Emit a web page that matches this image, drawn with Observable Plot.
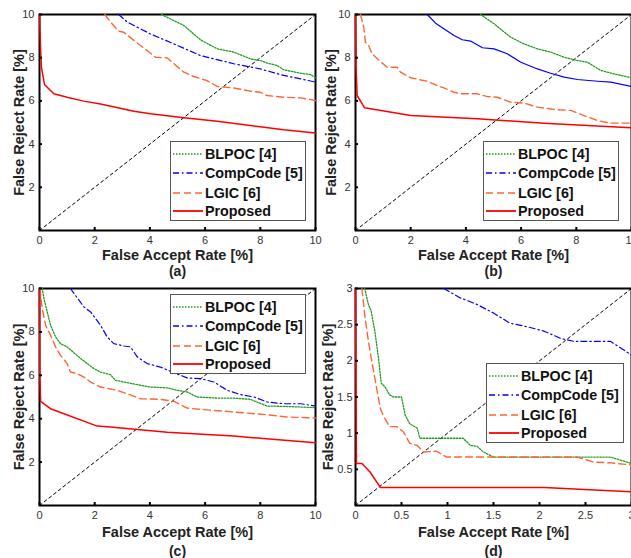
<!DOCTYPE html>
<html><head><meta charset="utf-8">
<script src="https://cdn.jsdelivr.net/npm/d3@7"></script>
<script src="https://cdn.jsdelivr.net/npm/@observablehq/plot@0.6"></script>
<style>
html,body{margin:0;padding:0;background:#fff;overflow:hidden;width:631px;height:558px;}
#root{position:relative;width:631px;height:558px;font-family:"Liberation Sans",Arial,sans-serif;}
.pan{position:absolute;}
.leg{position:absolute;box-sizing:border-box;border:1.5px solid #555;background:#fff;}
.row{position:absolute;left:0;height:19px;display:flex;align-items:center;}
.row svg{margin-left:2px;}
.row span{margin-left:2px;font-weight:bold;font-size:14.3px;color:#111;white-space:nowrap;}
</style></head><body><div id="root"></div>
<script>
const seriesNames = ["BLPOC [4]","CompCode [5]","LGIC [6]","Proposed"];
const xLabel = "False Accept Rate [%]";
const yLabel = "False Reject Rate [%]";
const xticks10 = [0,2,4,6,8,10];
const yticks10 = [2,4,6,8,10];
const xticks3 = [0,0.5,1,1.5,2,2.5,3];
const yticks3 = [0.5,1,1.5,2,2.5,3];
const diag10 = [[0,0],[10,10]];
const diag3 = [[0,0],[3,3]];

// Panel (a)
const a_blpoc = [[4.42,10],[5.23,9.49],[5.83,8.83],[6.44,8.41],[7.04,8.26],[7.64,7.95],[8.0,7.87],[8.25,7.75],[8.61,7.64],[8.85,7.44],[9.46,7.28],[9.82,7.22],[10,7.07]];
const a_comp = [[2.87,10],[3.18,9.65],[4.02,9.1],[4.87,8.64],[5.83,8.1],[7.04,7.72],[8.0,7.48],[8.85,7.18],[9.46,7.02],[10,6.87]];
const a_lgic = [[2.37,10],[2.57,9.65],[2.87,9.23],[3.05,9.18],[3.42,8.8],[3.9,8.33],[4.2,8.02],[4.63,7.99],[4.87,7.72],[5.23,7.33],[5.59,7.13],[6.07,6.94],[6.44,6.67],[7.04,6.6],[7.64,6.45],[8.0,6.4],[8.25,6.25],[8.85,6.17],[9.46,6.14],[10,6.02]];
const a_prop = [[0,10],[0.04,8.33],[0.07,7.56],[0.18,6.76],[0.52,6.33],[1.0,6.17],[1.6,5.99],[2.21,5.86],[3.42,5.52],[4.02,5.4],[5.23,5.22],[6.44,5.06],[7.64,4.86],[8.85,4.66],[10,4.51]];
// Panel (b)
const b_blpoc = [[4.53,10],[5.02,9.57],[5.62,8.95],[6.1,8.64],[6.59,8.41],[7.07,8.26],[7.56,8.02],[8.04,7.87],[8.4,7.79],[8.89,7.41],[9.37,7.25],[10,7.07]];
const b_comp = [[2.6,10],[2.9,9.6],[3.2,9.34],[3.57,9.03],[3.87,8.83],[4.17,8.77],[4.6,8.46],[5.02,8.41],[5.5,8.18],[5.99,7.79],[6.59,7.48],[7.07,7.28],[7.56,7.1],[8.04,6.99],[8.77,6.91],[9.25,6.87],[10,6.67]];
const b_lgic = [[0.18,10],[0.3,9.41],[0.36,8.72],[0.48,8.56],[0.6,8.18],[0.79,7.95],[1.15,7.56],[1.51,7.56],[1.63,7.33],[2.0,7.07],[2.6,6.91],[2.96,6.71],[3.2,6.6],[3.57,6.4],[3.81,6.33],[4.41,6.33],[4.78,6.2],[5.14,6.17],[5.62,5.94],[6.1,5.9],[6.59,5.71],[7.32,5.59],[7.8,5.56],[8.28,5.32],[8.77,5.09],[9.25,4.97],[10,4.97]];
const b_prop = [[0,10],[0.02,7.56],[0.06,6.25],[0.33,5.68],[2.0,5.32],[4.41,5.17],[6.83,4.97],[10,4.75]];
// Panel (c)
const c_blpoc = [[0.1,10],[0.16,9.54],[0.28,8.92],[0.4,8.31],[0.58,7.77],[0.76,7.46],[1.0,7.31],[1.24,7.05],[1.49,6.77],[1.73,6.54],[1.97,6.31],[2.21,6.15],[2.57,6.03],[2.75,5.77],[3.18,5.66],[3.66,5.54],[4.02,5.46],[4.63,5.42],[4.99,5.31],[5.35,5.23],[5.71,5.0],[6.44,4.95],[7.04,4.95],[7.64,4.89],[8.25,4.58],[8.85,4.57],[10,4.51]];
const c_comp = [[1.12,10],[1.43,9.46],[1.61,9.15],[1.85,8.92],[2.21,8.31],[2.45,7.77],[2.69,7.46],[3.06,7.35],[3.3,7.31],[3.54,6.85],[3.9,6.54],[4.38,6.38],[4.87,6.12],[5.35,5.88],[5.83,5.85],[6.32,5.69],[6.8,5.31],[7.28,5.11],[7.77,5.0],[8.25,4.77],[8.85,4.69],[9.46,4.69],[10,4.58]];
const c_lgic = [[0.02,10],[0.04,9.7],[0.1,9.08],[0.22,8.31],[0.4,7.85],[0.58,7.31],[0.76,6.92],[1.0,6.54],[1.12,6.15],[1.36,6.08],[1.61,5.92],[1.85,5.69],[2.21,5.46],[2.81,5.31],[3.18,5.15],[3.66,4.92],[4.38,4.89],[4.87,4.8],[5.35,4.49],[5.83,4.43],[7.04,4.31],[8.25,4.18],[8.97,4.08],[10,4.03]];
const c_prop = [[0,10],[0.01,6.0],[0.04,4.8],[0.4,4.46],[2.09,3.66],[2.57,3.62],[4.63,3.38],[7.04,3.2],[10,2.89]];
// Panel (d)
const d_blpoc = [[0.1,3.0],[0.14,2.78],[0.17,2.69],[0.21,2.41],[0.25,2.04],[0.28,1.69],[0.32,1.64],[0.37,1.53],[0.41,1.5],[0.5,1.5],[0.54,1.25],[0.59,1.13],[0.67,1.07],[0.7,0.93],[1.17,0.93],[1.25,0.83],[1.32,0.82],[1.39,0.74],[1.5,0.67],[2.77,0.67],[3.0,0.58]];
const d_comp = [[0.96,3.0],[1.14,2.87],[1.32,2.78],[1.5,2.66],[1.68,2.52],[1.87,2.47],[2.05,2.41],[2.23,2.31],[2.37,2.27],[2.77,2.27],[3.0,2.08]];
const d_lgic = [[0.07,3.0],[0.1,2.64],[0.14,2.27],[0.19,1.9],[0.23,1.62],[0.27,1.34],[0.3,1.25],[0.37,1.09],[0.45,1.09],[0.52,1.02],[0.59,0.86],[0.67,0.83],[0.74,0.74],[0.88,0.75],[0.99,0.67],[2.41,0.67],[2.59,0.6],[2.77,0.59],[3.0,0.56]];
const d_prop = [[0,3],[0.01,0.58],[0.07,0.58],[0.16,0.46],[0.27,0.25],[2.05,0.25],[3.0,0.19]];

const styles = [
  {stroke:"#1f9e1f", dash:"1.5,1.5", w:1.3},
  {stroke:"#0000ff", dash:"6,3,1.5,3", w:1.2},
  {stroke:"#ff6633", dash:"7,4", w:1.4},
  {stroke:"#ff0000", dash:null, w:1.5}
];

const root = document.getElementById("root");

function panel(p){
  const innerW = p.width - p.ml - p.mr, innerH = p.height - p.mt - p.mb;
  const lines = p.series.map((s,i)=>{
    const st = styles[i];
    const dash = (p.solidComp && i===1) ? null : st.dash;
    return Plot.line(s, {x:d=>d[0], y:d=>d[1], stroke:st.stroke, strokeWidth:st.w, strokeDasharray:dash});
  });
  const svg = Plot.plot({
    width:p.width, height:p.height,
    marginLeft:p.ml, marginRight:p.mr, marginTop:p.mt, marginBottom:p.mb,
    x:{domain:[0,p.max]}, y:{domain:[0,p.max]},
    style:{fontFamily:'"Liberation Sans",Arial,sans-serif', fontSize:"11px", color:"#333", background:"transparent", overflow:"visible"},
    marks:[
      Plot.frame({stroke:"black", strokeWidth:2}),
      Plot.line(p.diag, {x:d=>d[0], y:d=>d[1], stroke:"black", strokeWidth:1, strokeDasharray:"3,3"}),
      ...lines,
      Plot.axisX({ticks:p.xt, tickSize:0, tickPadding:6, label:null, tickFormat:d=>String(d)}),
      Plot.axisY({ticks:p.yt, tickSize:0, tickPadding:p.ytp, label:null, tickFormat:d=>String(d)}),
      Plot.tickX(p.xt, {x:d=>d, stroke:"black", strokeWidth:2, insetTop:innerH-3}),
      Plot.tickY(p.yt, {y:d=>d, stroke:"black", strokeWidth:2, insetRight:innerW-3}),
      Plot.text([xLabel], {text:d=>d, frameAnchor:"bottom", lineAnchor:"middle", textAnchor:"middle", dy:p.xlDy, fontWeight:"bold", fontSize:14.5, fill:"#222"}),
      Plot.text([yLabel], {text:d=>d, frameAnchor:"left", lineAnchor:"middle", textAnchor:"middle", dx:p.ylDx, rotate:-90, fontWeight:"bold", fontSize:14.5, fill:"#222"}),
      Plot.text([p.caption], {text:d=>d, frameAnchor:"bottom", lineAnchor:"middle", textAnchor:"middle", dy:p.capDy, fontWeight:"bold", fontSize:14, fill:"#222"})
    ]
  });
  const wrap = document.createElement("div");
  wrap.className = "pan";
  wrap.style.left = p.left+"px"; wrap.style.top = p.top+"px";
  wrap.appendChild(svg);
  root.appendChild(wrap);

  // legend
  const L = p.leg;
  const leg = document.createElement("div");
  leg.className = "leg";
  leg.style.left = L.x+"px"; leg.style.top = L.y+"px";
  leg.style.width = L.w+"px"; leg.style.height = L.h+"px";
  const rowTops = [2, 21, 41, 59];
  seriesNames.forEach((name,i)=>{
    const st = styles[i];
    const row = document.createElement("div");
    row.className = "row";
    row.style.top = rowTops[i]+"px";
    const dash = st.dash ? `stroke-dasharray="${st.dash}"` : "";
    row.innerHTML = `<svg width="30" height="6"><line x1="0" y1="3" x2="30" y2="3" stroke="${st.stroke}" stroke-width="${st.w+0.3}" ${dash}/></svg><span>${name}</span>`;
    leg.appendChild(row);
  });
  root.appendChild(leg);
}

panel({left:0, top:0, width:316, height:280, ml:39, mr:1, mt:14, mb:50, max:10, xt:xticks10, yt:yticks10, diag:diag10,
  series:[a_blpoc,a_comp,a_lgic,a_prop], caption:"(a)", xlDy:25, capDy:41, ylDx:-20, ytp:5, leg:{x:170,y:141,w:136,h:80}});
panel({left:316, top:0, width:315, height:280, ml:39, mr:0, mt:14, mb:50, max:10, xt:xticks10, yt:yticks10, diag:diag10, solidComp:true,
  series:[b_blpoc,b_comp,b_lgic,b_prop], caption:"(b)", xlDy:25, capDy:41, ylDx:-24, ytp:5, leg:{x:483,y:141,w:136,h:80}});
panel({left:0, top:275, width:316, height:283, ml:39, mr:1, mt:13, mb:53, max:10, xt:xticks10, yt:yticks10, diag:diag10,
  series:[c_blpoc,c_comp,c_lgic,c_prop], caption:"(c)", xlDy:27, capDy:46, ylDx:-20, ytp:5, leg:{x:170,y:294,w:136,h:80}});
panel({left:316, top:275, width:315, height:283, ml:39, mr:0, mt:13, mb:53, max:3, xt:xticks3, yt:yticks3, diag:diag3,
  series:[d_blpoc,d_comp,d_lgic,d_prop], caption:"(d)", xlDy:27, capDy:46, ylDx:-27, ytp:3, leg:{x:486,y:363,w:138,h:80}});
</script></body></html>
